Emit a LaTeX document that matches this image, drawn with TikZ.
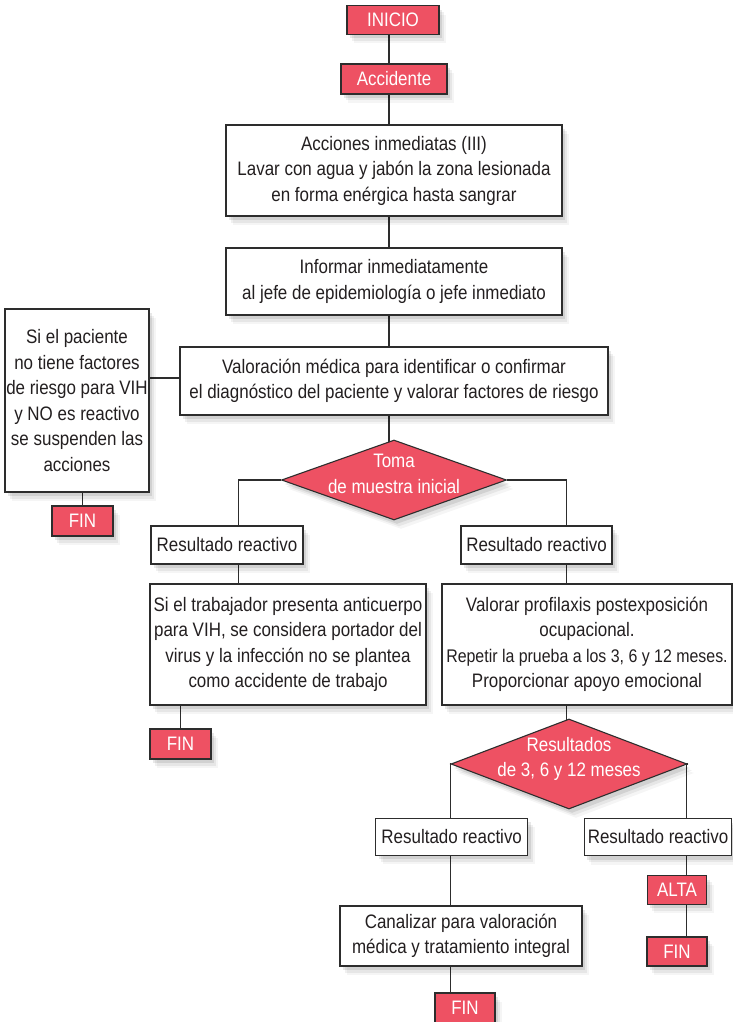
\documentclass[tikz,border=0pt]{standalone}
\usepackage{fontspec}
\setmainfont[FakeStretch=0.87]{Liberation Sans}
\usetikzlibrary{shapes.geometric,shadows,backgrounds,calc}
\definecolor{redc}{RGB}{238,81,99}
\definecolor{linec}{RGB}{45,45,45}
\definecolor{txtc}{RGB}{35,31,32}
\newcommand{\mainfs}{\fontsize{19.5pt}{25.5pt}\selectfont}
\newcommand{\tightfs}{\fontsize{18.3pt}{25.5pt}\selectfont}
\begin{document}
\begin{tikzpicture}[x=1pt,y=-1pt,
  softshadow/.style={
    general shadow={fill=black, opacity=0.04, shadow xshift=7pt, shadow yshift=-9pt},
    general shadow={fill=black, opacity=0.06, shadow xshift=5pt, shadow yshift=-6.5pt},
    general shadow={fill=black, opacity=0.09, shadow xshift=3pt, shadow yshift=-4pt}},
  wbox/.style={softshadow, rectangle, draw=linec, line width=1.1pt, fill=white, text=txtc,
    align=center, inner sep=0pt, font=\mainfs},
  rbox/.style={softshadow, rectangle, draw=linec, line width=1.1pt, fill=redc, text=white,
    align=center, inner sep=0pt, font=\mainfs},
  dia/.style={softshadow, diamond, draw=linec, line width=1.1pt, fill=redc, inner sep=0pt},
  dtext/.style={text=white, align=center, inner sep=0pt, font=\mainfs},
  conn/.style={draw=linec, line width=1.2pt}]
\useasboundingbox (0,0) rectangle (733,1022);

% nodes
\node[rbox, minimum width=92pt, minimum height=28.6pt] (inicio) at (393,20) {INICIO};
\node[rbox, minimum width=106pt, minimum height=30pt] (accid) at (394,79) {Accidente};
\node[wbox, minimum width=336pt, minimum height=91pt] (acc) at (394,170.5)
  {Acciones inmediatas (III)\\Lavar con agua y jabón la zona lesionada\\en forma enérgica hasta sangrar};
\node[wbox, minimum width=336pt, minimum height=67pt] (inf) at (394,281.5)
  {Informar inmediatamente\\al jefe de epidemiología o jefe inmediato};
\node[wbox, minimum width=428pt, minimum height=68pt] (val) at (394,381)
  {Valoración médica para identificar o confirmar\\el diagnóstico del paciente y valorar factores de riesgo};
\node[wbox, minimum width=144pt, minimum height=183pt] (left) at (77,400.5)
  {Si el paciente\\no tiene factores\\de riesgo para VIH\\y NO es reactivo\\se suspenden las\\acciones};
\node[rbox, minimum width=61pt, minimum height=30pt] (finL) at (82.5,521) {FIN};
\node[dia, minimum width=225pt, minimum height=80pt] (toma) at (394,480) {};
\node[dtext] (tomat) at ([yshift=6pt]toma.center) {Toma\\de muestra inicial};
\node[wbox, minimum width=152pt, minimum height=38pt] (rL) at (227,545) {Resultado reactivo};
\node[wbox, minimum width=151pt, minimum height=38pt] (rR) at (536.5,545) {Resultado reactivo};
\node[wbox, minimum width=276pt, minimum height=121pt] (trab) at (288,644.5)
  {Si el trabajador presenta anticuerpo\\para VIH, se considera portador del\\virus y la infección no se plantea\\como accidente de trabajo};
\node[wbox, minimum width=290pt, minimum height=121pt] (prof) at (587,644.5)
  {Valorar profilaxis postexposición\\ocupacional.\\{\tightfs Repetir la prueba a los 3, 6 y 12 meses.}\\Proporcionar apoyo emocional};
\node[rbox, minimum width=61pt, minimum height=30pt] (finM) at (180.5,744) {FIN};
\node[dia, minimum width=236pt, minimum height=90pt] (res) at (569,764) {};
\node[dtext] (rest) at ([yshift=5pt]res.center) {Resultados\\de 3, 6 y 12 meses};
\node[wbox, minimum width=152pt, minimum height=37pt] (rL2) at (451.7,836.7) {Resultado reactivo};
\node[wbox, minimum width=147.4pt, minimum height=37pt] (rR2) at (658,837) {Resultado reactivo};
\node[rbox, minimum width=59.4pt, minimum height=28.6pt] (alta) at (677,890) {ALTA};
\node[rbox, minimum width=60pt, minimum height=29pt] (finR) at (677,951.5) {FIN};
\node[wbox, minimum width=242pt, minimum height=60pt] (can) at (461,936)
  {Canalizar para valoración\\médica y tratamiento integral};
\node[rbox, minimum width=60pt, minimum height=30pt] (finB) at (465,1008) {FIN};

% connector columns
\coordinate (spine) at (389,0);
\coordinate (xL) at (238.7,0);
\coordinate (xR) at (566.7,0);
\coordinate (x3) at (450.7,0);
\coordinate (x4) at (686.5,0);
\coordinate (vw) at ($(val.west)+(0,-3)$);

\begin{pgfonlayer}{background}
\fill[white] (0,0) rectangle (733,1022);
\draw[conn] (inicio.south -| spine) -- (accid.north -| spine);
\draw[conn] (accid.south -| spine) -- (acc.north -| spine);
\draw[conn] (acc.south -| spine) -- (inf.north -| spine);
\draw[conn] (inf.south -| spine) -- (val.north -| spine);
\draw[conn] (val.south -| spine) -- (toma.center -| spine);
\draw[conn] (left.east |- vw) -- (vw);
\draw[conn] (left.south -| finL.north) -- (finL.north);
\draw[conn] (toma.west) -| (rL.north -| xL);
\draw[conn] (toma.east) -| (rR.north -| xR);
\draw[conn] (rL.south -| xL) -- (trab.north -| xL);
\draw[conn] (rR.south -| xR) -- (prof.north -| xR);
\draw[conn] (trab.south -| finM.north) -- (finM.north);
\draw[conn] (prof.south -| xR) -- (res.center -| xR);
\draw[conn] (res.west) -| (rL2.north -| x3);
\draw[conn] (res.east) -| (rR2.north -| x4);
\draw[conn] (rL2.south -| x3) -- (can.north -| x3);
\draw[conn] (can.south -| x3) -- (finB.north -| x3);
\draw[conn] (rR2.south -| x4) -- (alta.north -| x4);
\draw[conn] (alta.south -| x4) -- (finR.north -| x4);
\end{pgfonlayer}
\end{tikzpicture}
\end{document}
